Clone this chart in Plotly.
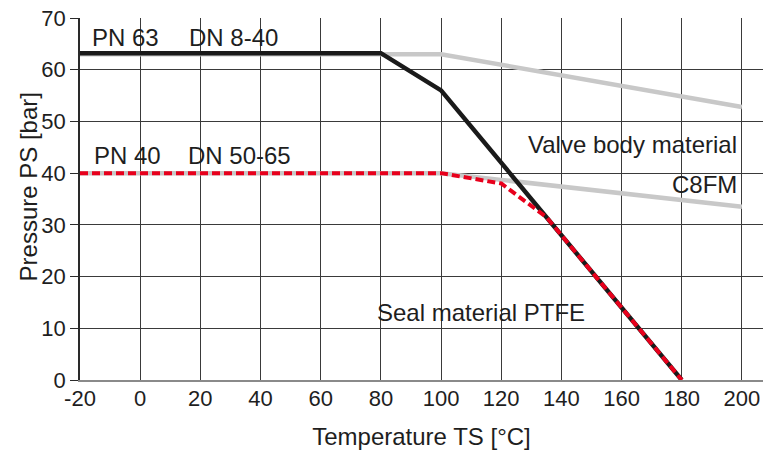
import plotly.graph_objects as go

# Valve body material C8FM limits (gray)
body_pn63_t = [-20, 100, 200]
body_pn63_p = [63, 63, 52.8]
body_pn40_t = [-20, 100, 120, 200]
body_pn40_p = [40, 40, 38.7, 33.5]

# Seal material PTFE limits
seal_pn63_t = [-20, 80, 100, 180]
seal_pn63_p = [63.2, 63.2, 56, 0]
seal_pn40_t = [-20, 100, 120, 127, 135, 180]
seal_pn40_p = [40, 40, 38, 35, 31.5, 0]

x_ticks = [-20, 0, 20, 40, 60, 80, 100, 120, 140, 160, 180, 200]
y_ticks = [0, 10, 20, 30, 40, 50, 60, 70]

FONT = "Liberation Sans, Arial, sans-serif"
TXT = "#1e1e1e"
GRID = "#3a3a3a"

fig = go.Figure()
fig.add_trace(go.Scatter(x=body_pn63_t, y=body_pn63_p, mode="lines",
                         line=dict(color="#c8c8c8", width=4.5), hoverinfo="skip"))
fig.add_trace(go.Scatter(x=body_pn40_t, y=body_pn40_p, mode="lines",
                         line=dict(color="#c8c8c8", width=4.5), hoverinfo="skip"))
fig.add_trace(go.Scatter(x=seal_pn63_t, y=seal_pn63_p, mode="lines",
                         line=dict(color="#1a1a1a", width=4.5), hoverinfo="skip"))
fig.add_trace(go.Scatter(x=seal_pn40_t, y=seal_pn40_p, mode="lines",
                         line=dict(color="#e8001c", width=4, dash="8px,4px"), hoverinfo="skip"))

ann = dict(showarrow=False, font=dict(family=FONT, size=24, color=TXT), xref="x", yref="y")
fig.add_annotation(x=-16.7, y=66.2, text="PN 63", xanchor="left", yanchor="middle", **ann)
fig.add_annotation(x=15.6, y=66.2, text="DN 8-40", xanchor="left", yanchor="middle", **ann)
fig.add_annotation(x=-15.9, y=43.4, text="PN 40", xanchor="left", yanchor="middle", **ann)
fig.add_annotation(x=15.2, y=43.4, text="DN 50-65", xanchor="left", yanchor="middle", **ann)
fig.add_annotation(x=199, y=45.6, text="Valve body material", xanchor="right", yanchor="middle", **ann)
fig.add_annotation(x=199, y=37.8, text="C8FM", xanchor="right", yanchor="middle", **ann)
fig.add_annotation(x=78, y=13, text="Seal material PTFE", xanchor="left", yanchor="middle", **ann)

# y-axis title
fig.add_annotation(x=-0.0761, y=0.532, xref="paper", yref="paper", text="Pressure PS [bar]",
                   textangle=-90, showarrow=False, xanchor="center", yanchor="middle",
                   font=dict(family=FONT, size=24, color=TXT))

fig.update_layout(
    width=763, height=451,
    margin=dict(l=80, r=0, t=18, b=71),
    paper_bgcolor="white", plot_bgcolor="white",
    showlegend=False,
    font=dict(family=FONT, color=TXT),
)
fig.update_xaxes(
    range=[-20, 207], tickvals=x_ticks, ticktext=[str(v) for v in x_ticks],
    showgrid=True, gridcolor=GRID, gridwidth=1,
    showline=True, linecolor="#8a8a8a", linewidth=1.5,
    ticks="", ticklabelstandoff=-2, automargin=False,
    tickfont=dict(family=FONT, size=22, color=TXT),
    zeroline=False,
    title=dict(text="Temperature TS [°C]", font=dict(family=FONT, size=24, color=TXT), standoff=18),
)
fig.update_yaxes(
    range=[0, 70], tickvals=y_ticks, ticktext=[str(v) for v in y_ticks],
    showgrid=True, gridcolor=GRID, gridwidth=1,
    showline=True, linecolor="#2a2a2a", linewidth=1.5,
    ticks="outside", ticklen=8, tickcolor="#2a2a2a", tickwidth=1,
    tickfont=dict(family=FONT, size=22, color=TXT), automargin=False,
    zeroline=False,
)

fig.write_html("out.html", config={"displayModeBar": False},
               post_script="document.body.style.margin='0';document.body.style.overflow='hidden';")
